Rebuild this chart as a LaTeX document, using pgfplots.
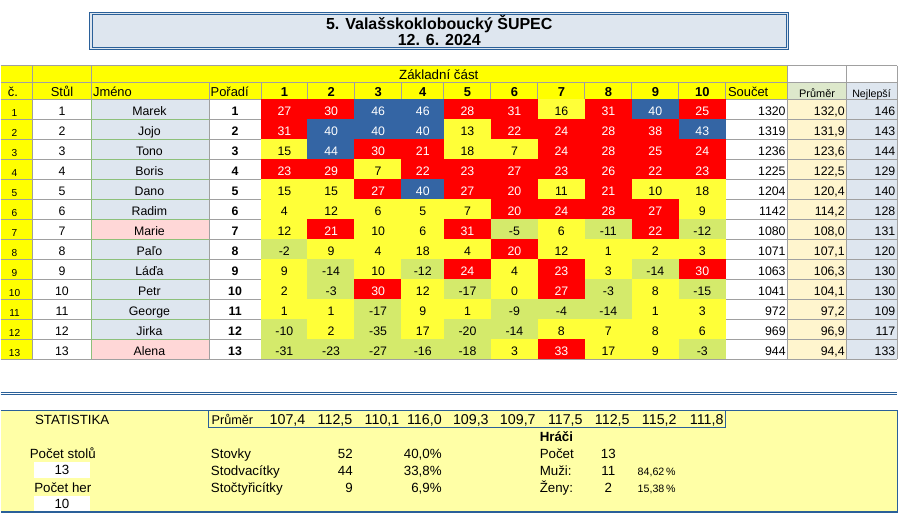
\documentclass[border=0pt]{standalone}
\usepackage{pgfplots}
\pgfplotsset{compat=1.18}
\usepackage{pgfplotstable}
\usepackage{fontspec}
\setmainfont{Liberation Sans}

\definecolor{tyellow}{HTML}{FFFF00}
\definecolor{cyellow}{HTML}{FFFF38}
\definecolor{cred}{HTML}{FF0000}
\definecolor{cblue}{HTML}{3465A4}
\definecolor{cgreen}{HTML}{D4EA6B}
\definecolor{namebg}{HTML}{DEE6EF}
\definecolor{pinkbg}{HTML}{FFD7D7}
\definecolor{avgbg}{HTML}{FFF5CE}
\definecolor{bestbg}{HTML}{DEE6EF}
\definecolor{prumhdr}{HTML}{DDE8CB}
\definecolor{gridc}{HTML}{A0A0A0}
\definecolor{namegrid}{HTML}{8DC07A}
\definecolor{navy}{HTML}{2A6099}
\definecolor{statbg}{HTML}{FFFFA6}

\newcommand\fs[1]{\fontsize{#1}{#1}\selectfont}

% colour class of a game cell: <0 green, 0-19 yellow, 20-39 red, >=40 blue
\newcommand\cellcolname[1]{\ifnum#1<0 \def\cc{cgreen}\else\ifnum#1<20 \def\cc{cyellow}\else\ifnum#1<40 \def\cc{cred}\else\def\cc{cblue}\fi\fi\fi}
\newcommand\celltext[1]{\ifnum#1<20 \color{black}\else\color{white}\fi#1}

\pgfplotstableread{
r stul name por g1 g2 g3 g4 g5 g6 g7 g8 g9 g10 sum avg best
1 1 Marek 1 27 30 46 46 28 31 16 31 40 25 1320 132.0 146
2 2 Jojo 2 31 40 40 40 13 22 24 28 38 43 1319 131.9 143
3 3 Tono 3 15 44 30 21 18 7 24 28 25 24 1236 123.6 144
4 4 Boris 4 23 29 7 22 23 27 23 26 22 23 1225 122.5 129
5 5 Dano 5 15 15 27 40 27 20 11 21 10 18 1204 120.4 140
6 6 Radim 6 4 12 6 5 7 20 24 28 27 9 1142 114.2 128
7 7 Marie 7 12 21 10 6 31 -5 6 -11 22 -12 1080 108.0 131
8 8 Paľo 8 -2 9 4 18 4 20 12 1 2 3 1071 107.1 120
9 9 Láďa 9 9 -14 10 -12 24 4 23 3 -14 30 1063 106.3 130
10 10 Petr 10 2 -3 30 12 -17 0 27 -3 8 -15 1041 104.1 130
11 11 George 11 1 1 -17 9 1 -9 -4 -14 1 3 972 97.2 109
12 12 Jirka 12 -10 2 -35 17 -20 -14 8 7 8 6 969 96.9 117
13 13 Alena 13 -31 -23 -27 -16 -18 3 33 17 9 -3 944 94.4 133
}\scores

% per-game averages (x = right edge of the value)
\pgfplotstableread{
x v
305.3 107,4
352.3 112,5
399.3 110,1
441.7 116,0
488.7 109,3
535.7 109,7
582.7 117,5
629.7 112,5
676.7 115,2
723.7 111,8
}\gameavg

\pgfplotstableread{
x y v
352.7 458.7 52
352.7 475.3 44
352.7 492.3 9
}\stcount
\pgfplotstableread{
x y v
441.7 458.7 40,0\%
441.7 475.3 33,8\%
441.7 492.3 6,9\%
}\stpct
\pgfplotstableread{
x y v
608.2 458.7 13
608.2 475.3 11
608.2 492.3 2
61.5 475.0 13
61.5 509.0 10
}\players
\pgfplotstableread{
x y v
637.3 475.7 84,62
637.3 492.7 15,38
}\playpct

\newcommand\gamecol[3]{%
\addplot[draw=none, mark=none,
  point meta=explicit symbolic,
  nodes near coords={\celltext{\pgfplotspointmeta}},
  every node near coord/.append style={/utils/exec={\cellcolname{\pgfplotspointmeta}}, fill=\cc,
     anchor=center, minimum width=#3, minimum height=15.3pt, text height=10pt, text depth=0pt,
     inner sep=0pt, font=\fs{9.25}},
] table[x expr=#2, y expr=89.3+20*\thisrow{r}, meta=g#1] {\scores};
}

\newcommand\txtcol[5]{%
\addplot[black, draw=none, mark=none, point meta=explicit symbolic,
  nodes near coords,
  every node near coord/.append style={anchor=#4, inner sep=0pt, font=#5, text=black}]
  table[x expr=#1, y expr=#2+20*\thisrow{r}, meta=#3]{\scores};
}

\begin{document}
\begin{tikzpicture}[every node/.append style={inner sep=0pt}]
\begin{axis}[
  hide axis, scale only axis,
  width=680.25pt, height=389.25pt,
  xmin=0, xmax=907, ymin=0, ymax=519, y dir=reverse,
  clip=false,
]
\fill[white] (axis cs:0,0) rectangle (axis cs:907,519);

% title box
\fill[namebg] (axis cs:89.3,12.3) rectangle (axis cs:788.7,49.7);
\draw[navy, line width=0.8pt] (axis cs:89.3,12.3) rectangle (axis cs:788.7,49.7);
\draw[navy, line width=0.8pt] (axis cs:91.6,14.6) rectangle (axis cs:786.4,47.4);
\node[anchor=base, font=\bfseries\fs{12}] at (axis cs:439,29.3) {5. Valašskokloboucký ŠUPEC};
\node[anchor=base, font=\bfseries\fs{12}] at (axis cs:439,46) {12. 6. 2024};

% backgrounds
\fill[tyellow] (axis cs:0,65.7) rectangle (axis cs:787.7,99.3);
\fill[prumhdr] (axis cs:787.7,83) rectangle (axis cs:846.3,99.3);
\fill[bestbg] (axis cs:846.3,83) rectangle (axis cs:897.3,99.3);
\fill[tyellow] (axis cs:0,99.3) rectangle (axis cs:32.3,359.3);
\fill[namebg] (axis cs:90.7,99.3) rectangle (axis cs:208.7,359.3);
\fill[pinkbg] (axis cs:90.7,219.3) rectangle (axis cs:208.7,239.3);
\fill[pinkbg] (axis cs:90.7,339.3) rectangle (axis cs:208.7,359.3);
\fill[avgbg] (axis cs:787.7,99.3) rectangle (axis cs:846.3,359.3);
\fill[bestbg] (axis cs:846.3,99.3) rectangle (axis cs:897.3,359.3);

% game cells
\gamecol{1}{284.0}{35.2pt}
\gamecol{2}{330.8}{35.5pt}
\gamecol{3}{377.8}{35.5pt}
\gamecol{4}{422.5}{32.1pt}
\gamecol{5}{467.2}{35.5pt}
\gamecol{6}{514.2}{35.5pt}
\gamecol{7}{561.2}{35.5pt}
\gamecol{8}{608.2}{35.5pt}
\gamecol{9}{655.2}{35.5pt}
\gamecol{10}{702.2}{35.5pt}

% grid lines
\pgfplotsinvokeforeach{65.7,83,99.3,119.3,139.3,159.3,179.3,199.3,219.3,239.3,259.3,279.3,299.3,319.3,339.3,359.3}{
  \draw[gridc, line width=0.75pt] (axis cs:0,#1) -- (axis cs:897.3,#1);
}
\pgfplotsinvokeforeach{32.3,90.7,787.7,846.3,897.3}{
  \draw[gridc, line width=0.75pt] (axis cs:#1,65.7) -- (axis cs:#1,359.3);
}
\pgfplotsinvokeforeach{208.7,260.7,307.3,354.3,401.3,443.7,490.7,537.7,584.7,631.7,678.7,725.7}{
  \draw[gridc, line width=0.75pt] (axis cs:#1,83) -- (axis cs:#1,359.3);
}
\pgfplotsinvokeforeach{119.3,139.3,159.3,179.3,199.3,219.3,239.3,259.3,279.3,299.3,319.3,339.3}{
  \draw[namegrid, line width=0.75pt] (axis cs:90.7,#1) -- (axis cs:208.7,#1);
}
\draw[namegrid, line width=0.75pt] (axis cs:90.7,99.3) -- (axis cs:90.7,359.3);

% header texts
\node[anchor=base, font=\fs{10}] at (axis cs:438.5,80) {Základní část};
\node[anchor=base west, font=\fs{9.7}] at (axis cs:7,96.7) {č.};
\node[anchor=base, font=\fs{9.7}] at (axis cs:61.5,96.7) {Stůl};
\node[anchor=base west, font=\fs{9.7}] at (axis cs:92.3,96.7) {Jméno};
\node[anchor=base west, font=\fs{9.7}] at (axis cs:210,96.7) {Pořadí};
\node[anchor=base west, font=\fs{9.7}] at (axis cs:727.7,96.7) {Součet};
\node[anchor=base, font=\fs{8.2}] at (axis cs:817,97.3) {Průměr};
\node[anchor=base, font=\fs{8}] at (axis cs:871.5,97.3) {Nejlepší};
\node[anchor=base, font=\bfseries\fs{9.7}] at (axis cs:284.0,96.7) {1};
\node[anchor=base, font=\bfseries\fs{9.7}] at (axis cs:330.8,96.7) {2};
\node[anchor=base, font=\bfseries\fs{9.7}] at (axis cs:377.8,96.7) {3};
\node[anchor=base, font=\bfseries\fs{9.7}] at (axis cs:422.5,96.7) {4};
\node[anchor=base, font=\bfseries\fs{9.7}] at (axis cs:467.2,96.7) {5};
\node[anchor=base, font=\bfseries\fs{9.7}] at (axis cs:514.2,96.7) {6};
\node[anchor=base, font=\bfseries\fs{9.7}] at (axis cs:561.2,96.7) {7};
\node[anchor=base, font=\bfseries\fs{9.7}] at (axis cs:608.2,96.7) {8};
\node[anchor=base, font=\bfseries\fs{9.7}] at (axis cs:655.2,96.7) {9};
\node[anchor=base, font=\bfseries\fs{9.7}] at (axis cs:702.2,96.7) {10};

% row texts
\txtcol{14}{96.6}{r}{base}{\fs{7.6}}
\txtcol{61.5}{96}{stul}{base}{\fs{9.25}}
\txtcol{149}{96}{name}{base}{\fs{9.25}}
\txtcol{234.7}{96}{por}{base}{\bfseries\fs{9.25}}
\txtcol{785.8}{96}{sum}{base east}{\fs{9.25}}
\txtcol{895.5}{96}{best}{base east}{\fs{9.25}}
\addplot[black, draw=none, mark=none, point meta=explicit,
  nodes near coords={\pgfmathprintnumber[fixed,fixed zerofill,precision=1,use comma,assume math mode=true]{\pgfplotspointmeta}},
  every node near coord/.append style={anchor=base east, inner sep=0pt, font=\fs{9.25}, text=black}]
  table[x expr=845, y expr=96+20*\thisrow{r}, meta=avg]{\scores};

% statistics section
\draw[navy, line width=0.75pt] (axis cs:0,392.3) -- (axis cs:897.3,392.3);
\draw[navy, line width=0.75pt] (axis cs:0,394.7) -- (axis cs:897.3,394.7);
\fill[statbg] (axis cs:0,410.3) rectangle (axis cs:897.3,512.3);
\draw[navy, line width=0.8pt] (axis cs:0,410.3) -- (axis cs:897.3,410.3) -- (axis cs:897.3,512.3) -- (axis cs:0,512.3);
\draw[navy, line width=0.8pt] (axis cs:208.3,410.3) rectangle (axis cs:725.7,427.7);
\fill[white] (axis cs:33.3,462.3) rectangle (axis cs:90,478);
\fill[white] (axis cs:33.3,496.3) rectangle (axis cs:90,511.7);

\node[anchor=base west, font=\fs{10}] at (axis cs:34.3,424.7) {STATISTIKA};
\node[anchor=base west, font=\fs{9.5}] at (axis cs:211,424.3) {Průměr};
\node[anchor=base, font=\fs{10}] at (axis cs:62.3,458.7) {Počet stolů};
\node[anchor=base, font=\fs{10}] at (axis cs:62.3,492.3) {Počet her};
\node[anchor=base west, font=\fs{10}] at (axis cs:210.3,458.7) {Stovky};
\node[anchor=base west, font=\fs{10}] at (axis cs:210.3,475.3) {Stodvacítky};
\node[anchor=base west, font=\fs{10}] at (axis cs:210.3,492.3) {Stočtyřicítky};
\node[anchor=base west, font=\bfseries\fs{10}] at (axis cs:539.3,441.7) {Hráči};
\node[anchor=base west, font=\fs{10}] at (axis cs:539.3,458.7) {Počet};
\node[anchor=base west, font=\fs{10}] at (axis cs:539.3,475.3) {Muži:};
\node[anchor=base west, font=\fs{10}] at (axis cs:539.3,492.3) {Ženy:};

\addplot[black, draw=none, mark=none, point meta=explicit symbolic,
  nodes near coords,
  every node near coord/.append style={anchor=base east, inner sep=0pt, font=\fs{10.7}, text=black}]
  table[x=x, y expr=424.3, meta=v]{\gameavg};
\addplot[black, draw=none, mark=none, point meta=explicit symbolic,
  nodes near coords,
  every node near coord/.append style={anchor=base east, inner sep=0pt, font=\fs{10}, text=black}]
  table[x=x, y=y, meta=v]{\stcount};
\addplot[black, draw=none, mark=none, point meta=explicit symbolic,
  nodes near coords,
  every node near coord/.append style={anchor=base east, inner sep=0pt, font=\fs{10}, text=black}]
  table[x=x, y=y, meta=v]{\stpct};
\addplot[black, draw=none, mark=none, point meta=explicit symbolic,
  nodes near coords,
  every node near coord/.append style={anchor=base, inner sep=0pt, font=\fs{10}, text=black}]
  table[x=x, y=y, meta=v]{\players};
\addplot[black, draw=none, mark=none, point meta=explicit symbolic,
  nodes near coords={\pgfplotspointmeta\,\%},
  every node near coord/.append style={anchor=base west, inner sep=0pt, font=\fs{8}, text=black}]
  table[x=x, y=y, meta=v]{\playpct};
\end{axis}
\end{tikzpicture}
\end{document}
